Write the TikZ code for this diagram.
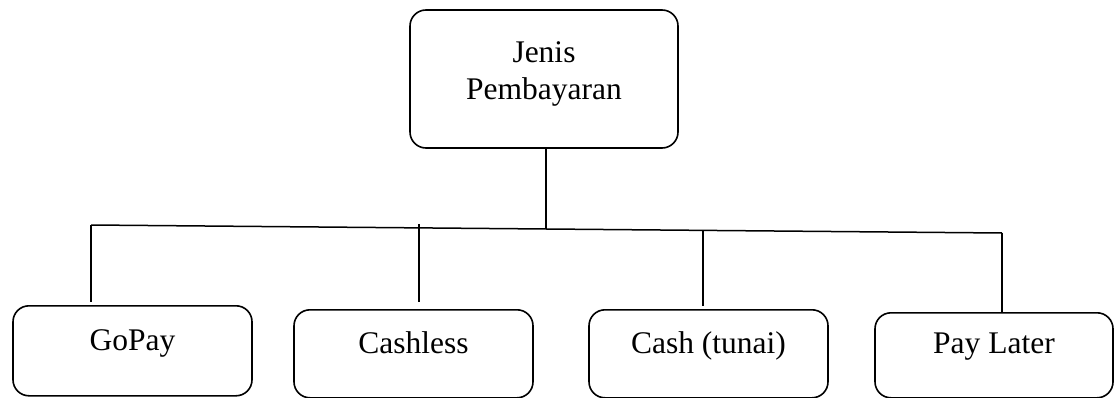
\documentclass[tikz,border=0pt]{standalone}
\usepackage{fontspec}
\setmainfont{Liberation Serif}
\begin{document}
\begin{tikzpicture}[x=1pt,y=-1pt,
  box/.style={draw=black,line width=1.6pt,rounded corners=16pt,inner sep=0pt,
    anchor=north,font=\fontsize{31.5}{37}\selectfont,align=center},
  conn/.style={draw=black,line width=1.5pt}]
\useasboundingbox (0,0) rectangle (1115,398);
% top node
\node[box,minimum width=268pt,minimum height=138pt,anchor=center,
  text height=59pt,text depth=17pt] (top) at (544,79) {Jenis\\Pembayaran};
% bottom nodes
\node[box,minimum width=239pt,text height=45pt,text depth=45pt] (gopay) at (132.5,305) {GoPay};
\node[box,minimum width=239pt,text height=44pt,text depth=44pt] (cashless) at (413.5,309) {Cashless};
\node[box,minimum width=239pt,text height=44pt,text depth=44pt] (cash) at (708.5,309) {Cash (tunai)};
\node[box,minimum width=238pt,text height=41pt,text depth=44pt] (later) at (994,312) {Pay Later};
% bus
\coordinate (b1) at (91,225);
\coordinate (b2) at (419,227.9);
\coordinate (bt) at (546,229);
\coordinate (b3) at (703,230.4);
\coordinate (b4) at (1002,233);
\draw[conn] (b1) -- (b4);
\draw[conn] (top.south -| bt) -- (bt);
\draw[conn] (b1) -- ([yshift=3pt]b1 |- gopay.north);
\draw[conn] ([yshift=4pt]b2) -- ([yshift=7pt]b2 |- cashless.north);
\draw[conn] (b3) -- ([yshift=3pt]b3 |- cash.north);
\draw[conn] (b4) -- (b4 |- later.north);
\end{tikzpicture}
\end{document}
